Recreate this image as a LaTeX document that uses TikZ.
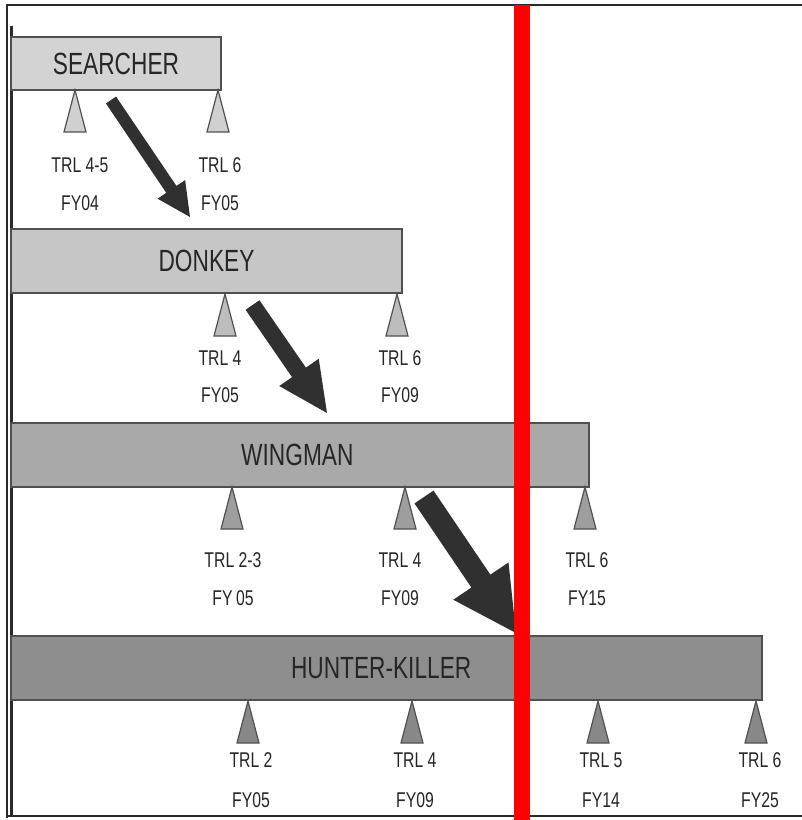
\documentclass[tikz,border=0pt]{standalone}
\usepackage{fontspec}
\setmainfont{Liberation Sans}[FakeStretch=0.74]
\usetikzlibrary{calc}

\definecolor{ink}{HTML}{262626}
\definecolor{edge}{HTML}{505050}
\definecolor{arrowink}{HTML}{303030}
\definecolor{frameink}{HTML}{2A2A2A}
\definecolor{fillA}{HTML}{D3D3D3}
\definecolor{fillB}{HTML}{C6C6C6}
\definecolor{fillC}{HTML}{A9A9A9}
\definecolor{fillD}{HTML}{8E8E8E}
\definecolor{triA}{HTML}{D0D0D0}
\definecolor{triB}{HTML}{BDBDBD}
\definecolor{triC}{HTML}{9E9E9E}
\definecolor{triD}{HTML}{888888}

% milestone: name, x, apex y, fill, TRL text, FY text, label x, TRL y, FY y
\newcommand\mstone[9]{%
  \coordinate (#1) at (#2,#3);
  \filldraw[marker, fill=#4] (#1) -- ++(11,42) -- ++(-22,0) -- cycle;
  \node[lbl] (#1-trl) at (#7,#8) {#5};
  \node[lbl] (#1-fy) at (#7,#9) {#6};
}

% block arrow from #1 to #2: shaft half width #3, head half width #4, head length #5
\newcommand\thrust[5]{%
  \coordinate (#1-base) at ($(#2)!#5!(#1)$);
  \fill[arrowink]
    ($(#1)!#3!90:(#2)$) -- ($(#1-base)!#3!90:(#2)$) --
    ($(#1-base)!#4!90:(#2)$) -- (#2) --
    ($(#1-base)!#4!-90:(#2)$) -- ($(#1-base)!#3!-90:(#2)$) --
    ($(#1)!#3!-90:(#2)$) -- cycle;
}

\begin{document}
\begin{tikzpicture}[x=0.75pt,y=-0.75pt,
  bar/.style={draw=edge, line width=1.1pt, anchor=north west,
    inner sep=0pt, outer sep=0pt, text=ink,
    font=\fontsize{23}{26}\selectfont},
  lbl/.style={text=ink, inner sep=0pt, font=\fontsize{16}{18}\selectfont},
  marker/.style={draw=edge, line width=0.9pt, line join=miter},
  frameline/.style={draw=frameink, line cap=rect}]
\useasboundingbox (0,0) rectangle (802,820);
\fill[white] (0,0) rectangle (802,820);

% outer frame
\draw[frameline, line width=1.4pt] (7,5) -- (802,5);
\draw[frameline, line width=0.8pt] (7,5) -- (7,817);
\draw[frameline, line width=2.2pt] (11.5,27) -- (11.5,816);
\draw[frameline, line width=2.2pt] (7,816) -- (802,816);

% programme bars
\node[bar, fill=fillA, minimum width=157.5pt, minimum height=39.75pt] (searcher) at (11,37) {SEARCHER};
\node[bar, fill=fillB, minimum width=293.25pt, minimum height=48pt] (donkey) at (11,229) {DONKEY};
\node[bar, fill=fillC, minimum width=433.5pt, minimum height=48pt] (wingman) at (11,423) {\hspace*{-4pt}WINGMAN};
\node[bar, fill=fillD, minimum width=563.25pt, minimum height=48pt] (hunter) at (11,636) {\hspace*{-8pt}HUNTER-KILLER};

% milestones
\mstone{sA}{75}{90}{triA}{TRL 4-5}{FY04}{80}{165}{203}
\mstone{sB}{218}{90}{triA}{TRL 6}{FY05}{220}{165}{203}

\mstone{dA}{225}{294}{triB}{TRL 4}{FY05}{220}{358}{395}
\mstone{dB}{397}{294}{triB}{TRL 6}{FY09}{400}{358}{395}

\mstone{wA}{232}{487}{triC}{TRL 2-3}{FY\,05}{233}{560}{598}
\mstone{wB}{405}{487}{triC}{TRL 4}{FY09}{400}{560}{598}
\mstone{wC}{585}{487}{triC}{TRL 6}{FY15}{587}{560}{598}

\mstone{hA}{248}{701}{triD}{TRL 2}{FY05}{251}{760}{800}
\mstone{hB}{412}{701}{triD}{TRL 4}{FY09}{415}{760}{800}
\mstone{hC}{598}{701}{triD}{TRL 5}{FY14}{601}{760}{800}
\mstone{hD}{756}{701}{triD}{TRL 6}{FY25}{760}{760}{800}

% transition arrows
\coordinate (s1) at (111,100);
\coordinate (t1) at (190,217);
\coordinate (s2) at (252.5,305);
\coordinate (t2) at (327,413);
\coordinate (s3) at (424,497);
\coordinate (t3) at (516,633);
\thrust{s1}{t1}{4.6pt}{12.5pt}{25pt}
\thrust{s2}{t2}{6.3pt}{18pt}{37pt}
\thrust{s3}{t3}{8.6pt}{25pt}{47pt}

% present-day marker
\coordinate (nowtop) at (522,5);
\coordinate (nowbot) at (522,820);
\draw[red, line width=12pt] (nowtop) -- (nowbot);
\end{tikzpicture}
\end{document}
